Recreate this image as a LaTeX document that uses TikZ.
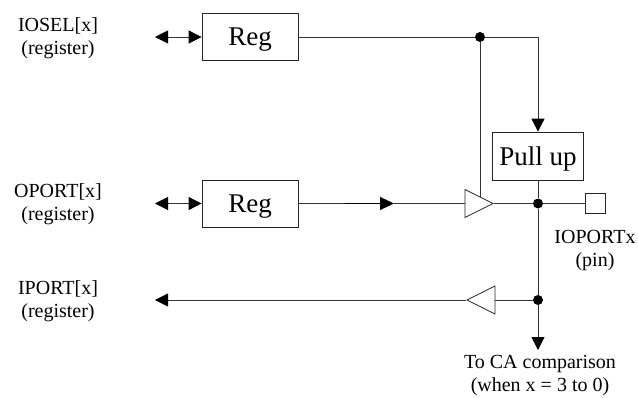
\documentclass[tikz,border=0pt]{standalone}
\usepackage{fontspec}
\setmainfont{Liberation Serif}
\usetikzlibrary{arrows.meta, shapes.geometric}
\tikzset{
    wire/.style={line width=0.8pt, draw=black!80},
    head/.style={wire, -{Triangle[black, length=13pt, width=13pt]}},
    twohead/.style={wire, {Triangle[black, length=13pt, width=13pt]}-{Triangle[black, length=13pt, width=13pt]}},
    blockbox/.style={draw=black!85, line width=0.8pt, font=\fontsize{27}{30}\selectfont, inner sep=0pt, text depth=0pt},
    buffer/.style={draw=black!85, line width=0.8pt, isosceles triangle, isosceles triangle stretches, minimum width=28pt, minimum height=28pt, inner sep=0pt, anchor=apex},
    joint/.style={circle, fill=black, inner sep=0pt, minimum size=10pt},
    lbl/.style={align=center, font=\fontsize{20}{23.5}\selectfont, inner sep=0pt}
}
\begin{document}
\begin{tikzpicture}[x=1pt, y=-1pt]
    \useasboundingbox (0,0) rectangle (638,397);

    % labels
    \node[lbl] (ioselL) at (58,38) {IOSEL[x]\\(register)};
    \node[lbl] (oportL) at (58,204) {OPORT[x]\\(register)};
    \node[lbl] (iportL) at (58,301) {IPORT[x]\\(register)};
    \node[lbl] (pinL) at (595,250.5) {IOPORTx\\(pin)};
    \node[lbl] (caL) at (540,375.5) {To CA comparison\\(when x = 3 to 0)};

    % blocks
    \node[blockbox, minimum width=96pt, minimum height=47pt] (regA) at (250,37) {Reg};
    \node[blockbox, minimum width=96pt, minimum height=47pt] (regB) at (250,203.5) {Reg};
    \node[blockbox, minimum width=91pt, minimum height=48pt] (pull) at (538,156) {Pull up};
    \node[draw=black!85, line width=0.8pt, minimum size=20pt, inner sep=0pt] (pin) at (595,203.5) {};
    \node[buffer] (bufO) at (494,203.5) {};
    \node[buffer, shape border rotate=180] (bufI) at (466,300) {};

    % joints
    \node[joint] (jA) at (480,37) {};
    \node[joint] (jB) at (538,203.5) {};
    \node[joint] (jC) at (538,300) {};

    % free ends
    \coordinate (ioselEnd) at (155,37);
    \coordinate (oportEnd) at (155,203.5);
    \coordinate (iportEnd) at (155,300);
    \coordinate (corner) at (538,37);
    \coordinate (bufOtop) at (480,197);
    \coordinate (caEnd) at (538,350);
    \coordinate (midA) at (345,203.5);
    \coordinate (midB) at (394,203.5);

    \draw[twohead] (ioselEnd) -- (regA.west);
    \draw[twohead] (oportEnd) -- (regB.west);
    \draw[wire] (regA.east) -- (jA);
    \draw[wire] (jA) -- (corner);
    \draw[head] (corner) -- (pull.north);
    \draw[wire] (jA) -- (bufOtop);
    \draw[wire] (regB.east) -- (midA);
    \draw[wire] (midB) -- (bufO.lower side);
    \draw[line width=1.2pt, -{Triangle[length=14pt, width=13pt]}] (midA) -- (midB);
    \draw[wire] (bufO.apex) -- (jB);
    \draw[wire] (jB) -- (pin.west);
    \draw[wire] (pull.south) -- (jB);
    \draw[wire] (jB) -- (jC);
    \draw[wire] (jC) -- (bufI.lower side);
    \draw[head] (bufI.apex) -- (iportEnd);
    \draw[head] (jC) -- (caEnd);
\end{tikzpicture}
\end{document}
